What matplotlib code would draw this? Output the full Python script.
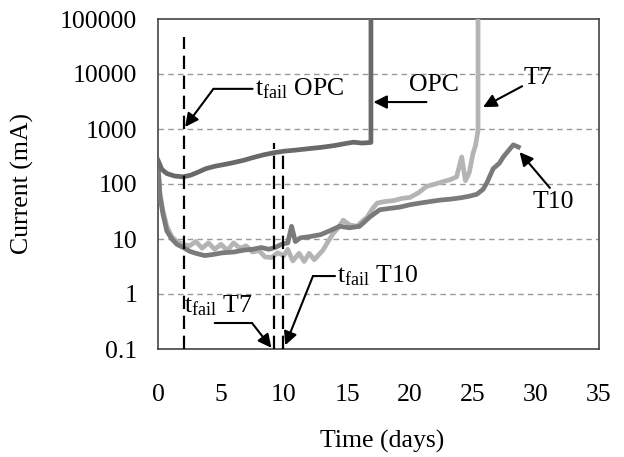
import matplotlib
matplotlib.use("Agg")
import matplotlib.pyplot as plt

plt.rcParams['font.family'] = ['Liberation Serif', 'DejaVu Serif']
plt.rcParams['mathtext.fontset'] = 'custom'
plt.rcParams['mathtext.rm'] = 'Liberation Serif'
plt.rcParams['mathtext.it'] = 'Liberation Serif:italic'

# ---- data ----
opc_t = [0, 0.3, 0.7, 1.3, 2.0, 2.6, 3.2, 3.8, 4.5, 5.2, 6.0, 6.8, 7.6, 8.4, 9.2,
         10.0, 11.0, 12.0, 13.0, 14.0, 14.8, 15.5, 16.2, 16.9, 16.9]
opc_v = [270, 185, 155, 140, 135, 145, 165, 190, 210, 225, 245, 270, 305, 340, 370,
         395, 415, 440, 465, 500, 540, 575, 555, 570, 1e6]

t7_t = [0, 0.15, 0.4, 0.7, 1.1, 1.5, 2.0, 2.5, 3.0, 3.5, 4.0, 4.5, 5.0, 5.5, 6.0,
        6.5, 7.0, 7.5, 8.0, 8.5, 9.0, 9.5, 10.0, 10.3, 10.7, 11.2, 11.6, 12.0, 12.4,
        13.1, 13.5, 13.9, 14.3, 14.7, 15.2, 15.8, 16.2, 16.6, 17.0, 17.4, 18.0, 18.7,
        19.4, 20.0, 20.7, 21.3, 22.0, 22.6, 23.2, 23.7, 24.1, 24.4, 24.7, 25.0, 25.2,
        25.4, 25.4]
t7_v = [230, 70, 32, 17, 11, 9, 8, 7.5, 9, 6.8, 8.5, 6.5, 8, 6.2, 8.5,
        6.8, 7.5, 5.8, 6.2, 4.7, 4.6, 5.6, 5.0, 6.5, 4.0, 5.5, 3.9, 5.5, 4.2,
        6.3, 9, 12.6, 16, 22, 18, 17, 21, 25, 35, 45, 48, 50,
        55, 57, 70, 90, 100, 110, 120, 135, 310, 115, 160, 360, 500,
        950, 1e6]

t10_t = [0, 0.15, 0.4, 0.7, 1.1, 1.5, 2.0, 2.5, 3.0, 3.7, 4.3, 5.1, 6.0, 6.9, 7.5,
         8.2, 8.8, 9.3, 9.8, 10.3, 10.6, 10.9, 11.3, 12.0, 12.9, 13.6, 14.4, 15.2,
         16.0, 16.8, 17.6, 18.4, 19.2, 20.0, 20.8, 21.6, 22.4, 23.2, 24.0, 24.7,
         25.3, 25.8, 26.1, 26.6, 27.1, 27.4, 27.8, 28.2, 28.6]
t10_v = [230, 60, 28, 14, 10, 8, 7, 6, 5.5, 5.0, 5.2, 5.6, 5.8, 6.3, 6.5,
         7.0, 6.5, 7.0, 8.0, 8.5, 17, 9, 10.5, 11, 12, 14, 17, 16,
         17, 25, 34, 36, 38, 42, 45, 48, 51, 53, 56, 60,
         65, 80, 105, 190, 240, 310, 400, 515, 470]

# failure times and top of their dashed markers
fail_t = [2.1, 9.2, 9.9]
fail_top = [47000, 560, 420]

x_ticks = [0, 5, 10, 15, 20, 25, 30, 35]
y_ticks = [0.1, 1, 10, 100, 1000, 10000, 100000]
y_ticklabels = ['0.1', '1', '10', '100', '1000', '10000', '100000']

# ---- figure ----
fig = plt.figure(figsize=(6.24, 4.57), dpi=100)
ax = fig.add_axes([158/624, 1-349/457, (599-158)/624, (349-19)/457])
ax.set_yscale('log')
ax.set_xlim(0, 35)
ax.set_ylim(0.1, 100000)

for v in y_ticks[1:-1]:
    ax.axhline(v, color='#999999', lw=1.0, ls=(0, (4, 3)), zorder=1)

ax.plot(t7_t, t7_v, color='#b4b4b4', lw=3.4, zorder=3, solid_joinstyle='round')
ax.plot(t10_t, t10_v, color='#7a7a7a', lw=3.4, zorder=4, solid_joinstyle='round')
ax.plot(opc_t, opc_v, color='#696969', lw=3.4, zorder=4, solid_joinstyle='round')

for ft, top in zip(fail_t, fail_top):
    ax.plot([ft, ft], [0.1, top], color='black', lw=1.6, ls=(0, (6, 3)), zorder=5)

fs = 18.5
ax.set_xticks(x_ticks)
ax.set_xticklabels([str(v) for v in x_ticks])
ax.set_yticks(y_ticks)
ax.set_yticklabels(y_ticklabels)
ax.minorticks_off()
ax.tick_params(axis='both', length=0, labelsize=fs)
ax.tick_params(axis='x', pad=25)
ax.tick_params(axis='y', pad=15)
for s in ax.spines.values():
    s.set_color('#444444')
    s.set_linewidth(1.2)

fig.text(22/624, 1-183/457, 'Current (mA)', rotation=90, ha='center', va='center', fontsize=fs)
fig.text(382/624, 1-441/457, 'Time (days)', ha='center', va='center', fontsize=fs)

arrow = dict(arrowstyle='-|>', mutation_scale=20, lw=1.5, color='black',
             shrinkA=0, shrinkB=0)
line = dict(arrowstyle='-', lw=1.5, color='black', shrinkA=0, shrinkB=0)

# t_fail OPC
ax.annotate('', xy=(2.15, 1090), xytext=(4.4, 5370), arrowprops=arrow, zorder=6)
ax.annotate('', xy=(4.4, 5370), xytext=(7.5, 5370), arrowprops=line, zorder=6)
ax.text(7.7, 5370, r't$_{\mathrm{fail}}$ OPC', fontsize=fs, ha='left', va='center')

# OPC
ax.annotate('', xy=(17.1, 3090), xytext=(21.3, 3090), arrowprops=arrow, zorder=6)
ax.text(19.9, 3900, 'OPC', fontsize=fs, ha='left', va='bottom')

# T7
ax.annotate('', xy=(25.8, 2500), xytext=(28.9, 6000), arrowprops=arrow, zorder=6)
ax.text(29.0, 8500, 'T7', fontsize=fs, ha='left', va='center')

# T10
ax.annotate('', xy=(28.7, 380), xytext=(31.1, 85), arrowprops=arrow, zorder=6)
ax.text(31.4, 47, 'T10', fontsize=fs, ha='center', va='center')

# t_fail T7
ax.annotate('', xy=(9.0, 0.105), xytext=(7.46, 0.297), arrowprops=arrow, zorder=6)
ax.annotate('', xy=(7.46, 0.297), xytext=(4.5, 0.297), arrowprops=line, zorder=6)
ax.text(2.1, 0.62, r't$_{\mathrm{fail}}$ T7', fontsize=fs, ha='left', va='center')

# t_fail T10
ax.annotate('', xy=(10.1, 0.117), xytext=(12.3, 2.12), arrowprops=arrow, zorder=6)
ax.annotate('', xy=(12.3, 2.12), xytext=(14.05, 2.12), arrowprops=line, zorder=6)
ax.text(14.2, 2.12, r't$_{\mathrm{fail}}$ T10', fontsize=fs, ha='left', va='center')

fig.savefig('out.png', dpi=100)
